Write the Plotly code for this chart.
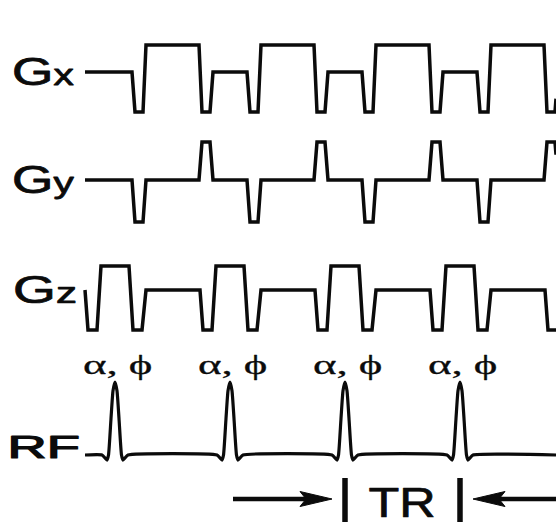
import json
import numpy as np
import plotly.graph_objects as go

# ---- sequence timing (time-axis units) ----
pulse_times = [115, 230, 345, 460, 575]   # RF excitations, one per TR (last one runs past the window)
seq_start = 85
seq_end = 556

# Gradient lobes: breakpoints relative to each RF pulse and the level reached there
gx_offsets = [17, 20, 28, 31, 84, 87, 95, 98]
gx_levels = [0, -40, -40, 27, 27, -40, -40, 0]

gy_offsets = [17, 20, 28, 31, 84, 87, 95, 98]
gy_levels = [0, -42, -42, 0, 0, 38, 38, 0]

gz_offsets = [-30, -27, -18, -14, 14, 18, 27, 31]
gz_levels = [0, -40, -40, 24, 24, -40, -40, 0]

# RF envelope around each pulse centre (normalised), and its peak height
rf_offsets = [-13, -10, -8, -6.5, -4, -2, 0, 2, 4, 6.5, 8, 10, 13]
rf_shape = [0, -0.04, -0.07, 0, 0.5, 0.88, 1, 0.88, 0.5, 0, -0.07, -0.04, 0]
rf_peak = 73

channel_labels = ["G<span style='font-size:29px'>x</span>",
                  "G<span style='font-size:29px'>y</span>",
                  "G<span style='font-size:29px'>z</span>",
                  "RF"]
pulse_label = "\u03b1, \u03d5"
tr_label = "TR"

# ---- layout of the diagram rows ----
row_baseline = {"gx": 72, "gy": 180, "gz": 290, "rf": 455}
ink = "#0b0b0b"


def waveform(offsets, levels):
    t, v = [], []
    for c in pulse_times:
        for o, lev in zip(offsets, levels):
            t.append(c + o)
            v.append(lev)
    t = np.array(t, float)
    v = np.array(v, float)
    inside = (t > seq_start) & (t < seq_end)
    tt = np.concatenate([[seq_start], t[inside], [seq_end]])
    vv = np.concatenate([[np.interp(seq_start, t, v, left=0, right=0)],
                         v[inside],
                         [np.interp(seq_end, t, v, left=0, right=0)]])
    return tt, vv


fig = go.Figure()

for key, offs, levs in [("gx", gx_offsets, gx_levels),
                        ("gy", gy_offsets, gy_levels),
                        ("gz", gz_offsets, gz_levels)]:
    tt, vv = waveform(offs, levs)
    fig.add_trace(go.Scatter(x=tt, y=row_baseline[key] - vv, mode="lines",
                             line=dict(color=ink, width=3.5), hoverinfo="skip",
                             showlegend=False))

rf_off = [o * 1.0 for o in rf_offsets]
rf_val = [s * rf_peak for s in rf_shape]
tt, vv = waveform(rf_off, rf_val)
fig.add_trace(go.Scatter(x=tt, y=row_baseline["rf"] - vv, mode="lines",
                         line=dict(color=ink, width=3.2, shape="spline", smoothing=0.5),
                         hoverinfo="skip", showlegend=False))

# ---- TR marker between the 3rd and 4th excitations ----
tr_y = 499
bar_half = 22
gap = 13
head_len = 32
head_half = 7.5
for c in pulse_times[2:4]:
    fig.add_trace(go.Scatter(x=[c, c], y=[tr_y - bar_half + 1, tr_y + bar_half + 1],
                             mode="lines", line=dict(color=ink, width=5.5),
                             hoverinfo="skip", showlegend=False))

for start, bar in [(pulse_times[1] + 3, pulse_times[2]), (pulse_times[4], pulse_times[3])]:
    d = 1 if bar > start else -1
    tip = bar - d * gap
    fig.add_trace(go.Scatter(x=[start, tip - d * 20], y=[tr_y, tr_y], mode="lines",
                             line=dict(color=ink, width=4.5), hoverinfo="skip",
                             showlegend=False))
    fig.add_trace(go.Scatter(
        x=[tip, tip - d * head_len, tip - d * (head_len - 6), tip - d * head_len, tip],
        y=[tr_y, tr_y - head_half, tr_y, tr_y + head_half, tr_y],
        mode="lines", fill="toself", fillcolor=ink, line=dict(color=ink, width=1),
        hoverinfo="skip", showlegend=False))

# ---- labels ----
sans = "Liberation Sans, Arial, sans-serif"
serif = "Liberation Serif, DejaVu Serif, serif"
annotations = []
stretch = []
weight = []

for lab, key, cx, s in zip(channel_labels[:3], ["gx", "gy", "gz"], [43, 43, 45], [1.4, 1.4, 1.45]):
    annotations.append(dict(x=cx, y=row_baseline[key] - 0.5, text=lab, showarrow=False,
                            xanchor="center", yanchor="middle",
                            font=dict(family=sans, size=38, color=ink)))
    stretch.append(s)
    weight.append(0.75)

annotations.append(dict(x=43.5, y=447.5, text=channel_labels[3], showarrow=False,
                        xanchor="center", yanchor="middle",
                        font=dict(family=sans, size=31, color=ink)))
stretch.append(1.75)
weight.append(1.2)

for c in pulse_times:
    if c + 40 > seq_end:
        continue
    annotations.append(dict(x=c + 2.5, y=364, text=pulse_label, showarrow=False,
                            xanchor="center", yanchor="middle",
                            font=dict(family=serif, size=28, color=ink)))
    stretch.append(1.6)
    weight.append(0.3)

annotations.append(dict(x=(pulse_times[2] + pulse_times[3]) / 2 - 1, y=502, text=tr_label,
                        showarrow=False, xanchor="center", yanchor="middle",
                        font=dict(family=sans, size=42, color=ink)))
stretch.append(1.2)
weight.append(0.7)

fig.update_layout(
    width=556, height=525,
    margin=dict(l=0, r=0, t=0, b=0),
    paper_bgcolor="white", plot_bgcolor="white",
    xaxis=dict(range=[0, 556], visible=False, fixedrange=True),
    yaxis=dict(range=[525, 0], visible=False, fixedrange=True),
    annotations=annotations,
    showlegend=False,
)

# widen (and slightly embolden) the label glyphs about their centres
post = """
var gd = document.getElementById('{plot_id}');
var sx = %s;
var sw = %s;
function widen() {
  gd.querySelectorAll('g.annotation').forEach(function (g) {
    var i = +g.getAttribute('data-index');
    var t = g.querySelector('text.annotation-text');
    if (!t || !sx[i] || t.getAttribute('data-sx')) return;
    var b = t.getBBox();
    var cx = b.x + b.width / 2;
    var prev = t.getAttribute('transform') || '';
    t.setAttribute('transform', prev + ' translate(' + cx + ',0) scale(' + sx[i] + ',1) translate(' + (-cx) + ',0)');
    t.style.stroke = '%s';
    t.style.strokeWidth = sw[i] + 'px';
    t.style.strokeLinejoin = 'round';
    t.setAttribute('data-sx', sx[i]);
  });
}
widen();
if (gd.on) { gd.on('plotly_afterplot', widen); }
""" % (json.dumps(stretch), json.dumps(weight), ink)

fig.write_html("out.html", config={"displayModeBar": False, "staticPlot": True},
               post_script=post)
